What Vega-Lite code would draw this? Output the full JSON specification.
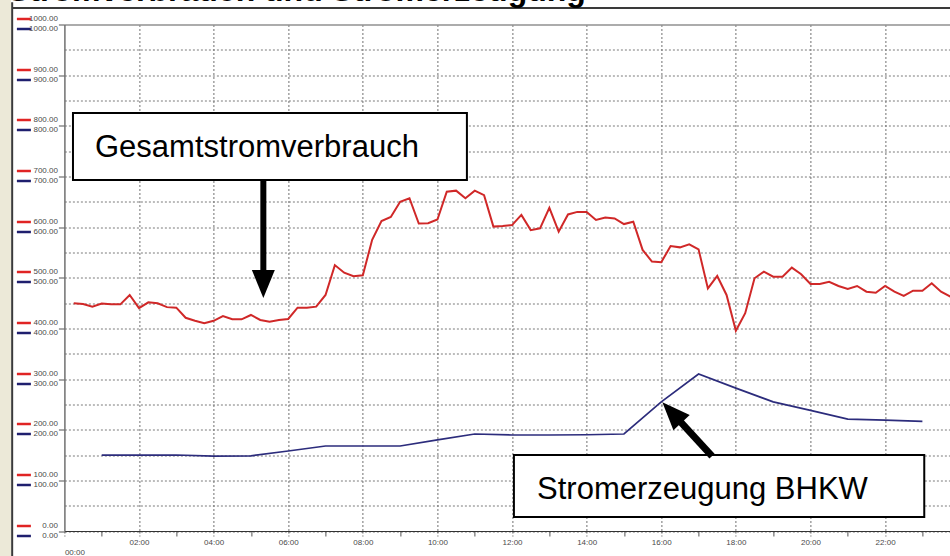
{
  "$schema": "https://vega.github.io/schema/vega-lite/v6.json",
  "autosize": {"type": "none"},
  "padding": {"left": 64.4, "right": 0, "top": 24.5, "bottom": 25},
  "width": 885.6,
  "height": 506.5,
  "background": "white",
  "config": {"view": {"stroke": null}},
  "datasets": {
    "verbrauch": [
      {"t": 0.25, "kw": 449.5}, {"t": 0.5, "kw": 448}, {"t": 0.75, "kw": 443}, {"t": 1.0, "kw": 449},
      {"t": 1.25, "kw": 447.5}, {"t": 1.5, "kw": 447.5}, {"t": 1.75, "kw": 466}, {"t": 2.0, "kw": 440},
      {"t": 2.25, "kw": 451.5}, {"t": 2.5, "kw": 449.5}, {"t": 2.75, "kw": 442}, {"t": 3.0, "kw": 441},
      {"t": 3.25, "kw": 421}, {"t": 3.5, "kw": 415}, {"t": 3.75, "kw": 410}, {"t": 4.0, "kw": 415},
      {"t": 4.25, "kw": 424.5}, {"t": 4.5, "kw": 418}, {"t": 4.75, "kw": 418}, {"t": 5.0, "kw": 426.5},
      {"t": 5.25, "kw": 416.6}, {"t": 5.5, "kw": 413}, {"t": 5.75, "kw": 416.6}, {"t": 6.0, "kw": 418.6},
      {"t": 6.25, "kw": 441}, {"t": 6.5, "kw": 441}, {"t": 6.75, "kw": 443}, {"t": 7.0, "kw": 466},
      {"t": 7.25, "kw": 525}, {"t": 7.5, "kw": 510}, {"t": 7.75, "kw": 503}, {"t": 8.0, "kw": 505},
      {"t": 8.25, "kw": 575}, {"t": 8.5, "kw": 612}, {"t": 8.75, "kw": 620}, {"t": 9.0, "kw": 650},
      {"t": 9.25, "kw": 657}, {"t": 9.5, "kw": 607}, {"t": 9.75, "kw": 607.5}, {"t": 10.0, "kw": 615},
      {"t": 10.25, "kw": 670}, {"t": 10.5, "kw": 672}, {"t": 10.75, "kw": 657}, {"t": 11.0, "kw": 672},
      {"t": 11.25, "kw": 663}, {"t": 11.5, "kw": 601}, {"t": 11.75, "kw": 602}, {"t": 12.0, "kw": 604},
      {"t": 12.25, "kw": 624}, {"t": 12.5, "kw": 594}, {"t": 12.75, "kw": 597.6}, {"t": 13.0, "kw": 638},
      {"t": 13.25, "kw": 591}, {"t": 13.5, "kw": 625}, {"t": 13.75, "kw": 630}, {"t": 14.0, "kw": 630},
      {"t": 14.25, "kw": 614}, {"t": 14.5, "kw": 619}, {"t": 14.75, "kw": 617}, {"t": 15.0, "kw": 606},
      {"t": 15.25, "kw": 610.7}, {"t": 15.5, "kw": 555}, {"t": 15.75, "kw": 532}, {"t": 16.0, "kw": 530.5},
      {"t": 16.25, "kw": 562.7}, {"t": 16.5, "kw": 560}, {"t": 16.75, "kw": 566}, {"t": 17.0, "kw": 556},
      {"t": 17.25, "kw": 479}, {"t": 17.5, "kw": 503.5}, {"t": 17.75, "kw": 466}, {"t": 18.0, "kw": 395.5},
      {"t": 18.25, "kw": 430}, {"t": 18.5, "kw": 499}, {"t": 18.75, "kw": 512}, {"t": 19.0, "kw": 502},
      {"t": 19.25, "kw": 502}, {"t": 19.5, "kw": 520}, {"t": 19.75, "kw": 507}, {"t": 20.0, "kw": 487.6},
      {"t": 20.25, "kw": 487.6}, {"t": 20.5, "kw": 492}, {"t": 20.75, "kw": 483.7}, {"t": 21.0, "kw": 477.8},
      {"t": 21.25, "kw": 483.7}, {"t": 21.5, "kw": 472.5}, {"t": 21.75, "kw": 470.5}, {"t": 22.0, "kw": 483.7},
      {"t": 22.25, "kw": 472.5}, {"t": 22.5, "kw": 464}, {"t": 22.75, "kw": 474.5}, {"t": 23.0, "kw": 474.5},
      {"t": 23.25, "kw": 489}, {"t": 23.5, "kw": 472.5}, {"t": 23.75, "kw": 462.6}
    ],
    "erzeugung": [
      {"t": 1, "kw": 150}, {"t": 2, "kw": 150}, {"t": 3, "kw": 150}, {"t": 4, "kw": 148},
      {"t": 5, "kw": 148.5}, {"t": 6, "kw": 158}, {"t": 7, "kw": 167.8}, {"t": 8, "kw": 167.8},
      {"t": 9, "kw": 167.8}, {"t": 10, "kw": 180}, {"t": 11, "kw": 191.5}, {"t": 12, "kw": 189.5},
      {"t": 13, "kw": 189.5}, {"t": 14, "kw": 190}, {"t": 15, "kw": 191.5}, {"t": 16, "kw": 255},
      {"t": 17, "kw": 310}, {"t": 18, "kw": 282}, {"t": 19, "kw": 255}, {"t": 20, "kw": 238},
      {"t": 21, "kw": 221}, {"t": 22, "kw": 219}, {"t": 23, "kw": 216.5}
    ]
  },
  "layer": [
    {
      "data": {"values": [{}]},
      "mark": {"type": "rect", "fill": "#ECE9D8", "clip": false},
      "encoding": {
        "x": {"datum": -1.753, "type": "quantitative", "scale": {"domain": [0, 23.74], "nice": false, "zero": false}, "axis": null},
        "x2": {"datum": -1.432},
        "y": {"datum": 1048.4, "type": "quantitative", "scale": {"domain": [0, 1000], "nice": false}, "axis": null},
        "y2": {"datum": -60}
      }
    },
    {
      "data": {"values": [{}]},
      "mark": {"type": "rule", "stroke": "#3a3a3a", "strokeWidth": 2, "clip": false},
      "encoding": {
        "x": {"datum": -1.40, "type": "quantitative", "scale": {"domain": [0, 23.74], "nice": false, "zero": false}, "axis": null},
        "y": {"datum": 1044, "type": "quantitative", "scale": {"domain": [0, 1000], "nice": false}, "axis": null},
        "y2": {"datum": -60}
      }
    },
    {
      "data": {"values": [{}]},
      "mark": {"type": "rule", "stroke": "#3a3a3a", "strokeWidth": 2, "clip": false},
      "encoding": {
        "x": {"datum": -1.40, "type": "quantitative", "scale": {"domain": [0, 23.74], "nice": false, "zero": false}, "axis": null},
        "x2": {"datum": 24.5},
        "y": {"datum": 1032.6, "type": "quantitative", "scale": {"domain": [0, 1000], "nice": false}, "axis": null}
      }
    },
    {
      "data": {"values": [{}]},
      "mark": {"type": "text", "align": "left", "baseline": "alphabetic", "font": "Liberation Sans", "fontSize": 32, "fontWeight": "bold", "color": "#000000", "clip": false},
      "encoding": {
        "x": {"datum": -1.512, "type": "quantitative", "scale": {"domain": [0, 23.74], "nice": false, "zero": false}, "axis": null},
        "y": {"datum": 1047.2, "type": "quantitative", "scale": {"domain": [0, 1000], "nice": false}, "axis": null},
        "text": {"value": "Stromverbrauch und Stromerzeugung"}
      }
    },
    {
      "data": {"name": "verbrauch"},
      "mark": {"type": "line", "stroke": "#d02828", "strokeWidth": 2, "clip": true},
      "encoding": {
        "x": {"field": "t", "type": "quantitative", "scale": {"domain": [0, 23.74], "nice": false, "zero": false},
          "axis": {
            "orient": "bottom", "title": null,
            "values": [0,1,2,3,4,5,6,7,8,9,10,11,12,13,14,15,16,17,18,19,20,21,22,23,24],
            "labelExpr": "datum.value % 24 == 0 ? ['', '00:00'] : (datum.value % 2 == 0 ? ((datum.value < 10 ? '0' : '') + datum.value + ':00') : '')",
            "labelAlign": {"condition": [{"test": "datum.value == 0", "value": "left"}, {"test": "datum.value == 24", "value": "right"}], "value": "center"},
            "labelPadding": 2, "labelLineHeight": 10,
            "labelFontSize": 8, "labelColor": "#4a4a4a", "labelFont": "Liberation Sans",
            "labelFlush": false, "labelOverlap": false, "labelBound": false,
            "tickSize": 5, "tickColor": "#555555", "tickWidth": 1,
            "tickDash": {"condition": {"test": "datum.value % 2 == 0", "value": [2, 2]}, "value": []},
            "domainColor": "#333333", "domainWidth": 1.2,
            "grid": true, "gridDash": [2, 2], "gridColor": "#707070", "gridWidth": 1,
            "gridOpacity": {"condition": {"test": "datum.value % 2 == 0 && datum.value > 0", "value": 1}, "value": 0}
          }
        },
        "y": {"field": "kw", "type": "quantitative", "scale": {"domain": [0, 1000], "nice": false},
          "axis": {
            "orient": "left", "title": null,
            "values": [0,50,100,150,200,250,300,350,400,450,500,550,600,650,700,750,800,850,900,950,1000],
            "grid": true,
            "gridDash": {"condition": {"test": "datum.value == 1000", "value": []}, "value": [2, 2]},
            "gridColor": {"condition": {"test": "datum.value == 1000", "value": "#909090"}, "value": "#7a7a7a"},
            "gridWidth": {"condition": {"test": "datum.value == 1000", "value": 1.5}, "value": 1},
            "domain": false, "ticks": false, "labels": false
          }
        }
      }
    },
    {
      "data": {"name": "erzeugung"},
      "mark": {"type": "line", "stroke": "#2c2c7c", "strokeWidth": 1.7, "clip": true},
      "encoding": {
        "x": {"field": "t", "type": "quantitative", "scale": {"domain": [0, 23.74], "nice": false, "zero": false}, "axis": null},
        "y": {"field": "kw", "type": "quantitative", "scale": {"domain": [0, 1000], "nice": false},
          "axis": {
            "orient": "left", "title": null,
            "values": [0,100,200,300,400,500,600,700,800,900,1000],
            "format": ".2f", "labelOffset": -6, "labelPadding": 1,
            "labelFontSize": 8, "labelColor": "#4a4a4a", "labelFont": "Liberation Sans",
            "labelFlush": false, "labelOverlap": false, "labelBound": false,
            "tickSize": 6, "tickColor": "#707070", "tickWidth": 1.2,
            "domain": true, "domainColor": "#707070", "domainWidth": 1.5,
            "grid": false
          }
        }
      }
    },
    {
      "data": {"values": [{}]},
      "mark": {"type": "rect", "fill": "white", "stroke": "#000000", "strokeWidth": 2, "clip": false},
      "encoding": {
        "x": {"datum": 0.23, "type": "quantitative", "scale": {"domain": [0, 23.74], "nice": false, "zero": false}, "axis": null},
        "x2": {"datum": 10.79},
        "y": {"datum": 825.3, "type": "quantitative", "scale": {"domain": [0, 1000], "nice": false},
          "axis": {
            "orient": "left", "title": null,
            "values": [0,100,200,300,400,500,600,700,800,900,1000],
            "format": ".2f", "labelOffset": 4, "labelPadding": 1,
            "labelFontSize": 8, "labelColor": "#4a4a4a", "labelFont": "Liberation Sans",
            "labelFlush": false, "labelOverlap": false, "labelBound": false,
            "tickSize": 6, "tickOpacity": 0,
            "domain": false, "grid": false
          }
        },
        "y2": {"datum": 693}
      }
    },
    {
      "data": {"values": [{}]},
      "mark": {"type": "rect", "fill": "white", "stroke": "#000000", "strokeWidth": 2, "clip": false},
      "encoding": {
        "x": {"datum": 12.05, "type": "quantitative", "scale": {"domain": [0, 23.74], "nice": false, "zero": false}, "axis": null},
        "x2": {"datum": 23.05},
        "y": {"datum": 150, "type": "quantitative", "scale": {"domain": [0, 1000], "nice": false},
          "axis": {
            "orient": "left", "title": null, "offset": 34,
            "values": [0,100,200,300,400,500,600,700,800,900,1000],
            "labels": false, "domain": false, "grid": false,
            "ticks": true, "tickSize": 14, "tickWidth": 2.5, "tickColor": "#e02424", "tickOffset": -6
          }
        },
        "y2": {"datum": 27.6}
      }
    },
    {
      "data": {"values": [{}]},
      "mark": {"type": "text", "align": "left", "baseline": "alphabetic", "font": "Liberation Sans", "fontSize": 31, "color": "#000000", "clip": false},
      "encoding": {
        "x": {"datum": 0.82, "type": "quantitative", "scale": {"domain": [0, 23.74], "nice": false, "zero": false}, "axis": null},
        "y": {"datum": 738, "type": "quantitative", "scale": {"domain": [0, 1000], "nice": false},
          "axis": {
            "orient": "left", "title": null, "offset": 34,
            "values": [0,100,200,300,400,500,600,700,800,900,1000],
            "labels": false, "domain": false, "grid": false,
            "ticks": true, "tickSize": 14, "tickWidth": 2.5, "tickColor": "#1f1f6e", "tickOffset": 4
          }
        },
        "text": {"value": "Gesamtstromverbrauch"}
      }
    },
    {
      "data": {"values": [{}]},
      "mark": {"type": "text", "align": "left", "baseline": "alphabetic", "font": "Liberation Sans", "fontSize": 31, "color": "#000000", "clip": false},
      "encoding": {
        "x": {"datum": 12.67, "type": "quantitative", "scale": {"domain": [0, 23.74], "nice": false, "zero": false}, "axis": null},
        "y": {"datum": 63.2, "type": "quantitative", "scale": {"domain": [0, 1000], "nice": false}, "axis": null},
        "text": {"value": "Stromerzeugung BHKW"}
      }
    },
    {
      "data": {"values": [{}]},
      "mark": {"type": "rule", "stroke": "#000000", "strokeWidth": 6, "clip": false},
      "encoding": {
        "x": {"datum": 5.333, "type": "quantitative", "scale": {"domain": [0, 23.74], "nice": false, "zero": false}, "axis": null},
        "y": {"datum": 693, "type": "quantitative", "scale": {"domain": [0, 1000], "nice": false}, "axis": null},
        "y2": {"datum": 505}
      }
    },
    {
      "data": {"values": [{}]},
      "mark": {"type": "point", "shape": "M-0.82,-1L0.82,-1L0,1Z", "filled": true, "color": "#000000", "opacity": 1, "size": 784, "strokeWidth": 0, "angle": 0, "clip": false},
      "encoding": {
        "x": {"datum": 5.333, "type": "quantitative", "scale": {"domain": [0, 23.74], "nice": false, "zero": false}, "axis": null},
        "y": {"datum": 487.7, "type": "quantitative", "scale": {"domain": [0, 1000], "nice": false}, "axis": null}
      }
    },
    {
      "data": {"values": [{}]},
      "mark": {"type": "rule", "stroke": "#000000", "strokeWidth": 7, "clip": false},
      "encoding": {
        "x": {"datum": 17.36, "type": "quantitative", "scale": {"domain": [0, 23.74], "nice": false, "zero": false}, "axis": null},
        "x2": {"datum": 16.35},
        "y": {"datum": 148, "type": "quantitative", "scale": {"domain": [0, 1000], "nice": false}, "axis": null},
        "y2": {"datum": 229}
      }
    },
    {
      "data": {"values": [{}]},
      "mark": {"type": "point", "shape": "M-0.8,-1L0.8,-1L0,1Z", "filled": true, "color": "#000000", "opacity": 1, "size": 784, "strokeWidth": 0, "angle": 136.7, "clip": false},
      "encoding": {
        "x": {"datum": 16.287, "type": "quantitative", "scale": {"domain": [0, 23.74], "nice": false, "zero": false}, "axis": null},
        "y": {"datum": 234.0, "type": "quantitative", "scale": {"domain": [0, 1000], "nice": false}, "axis": null}
      }
    }
  ],
  "resolve": {"scale": {"y": "independent", "x": "independent"}}
}
